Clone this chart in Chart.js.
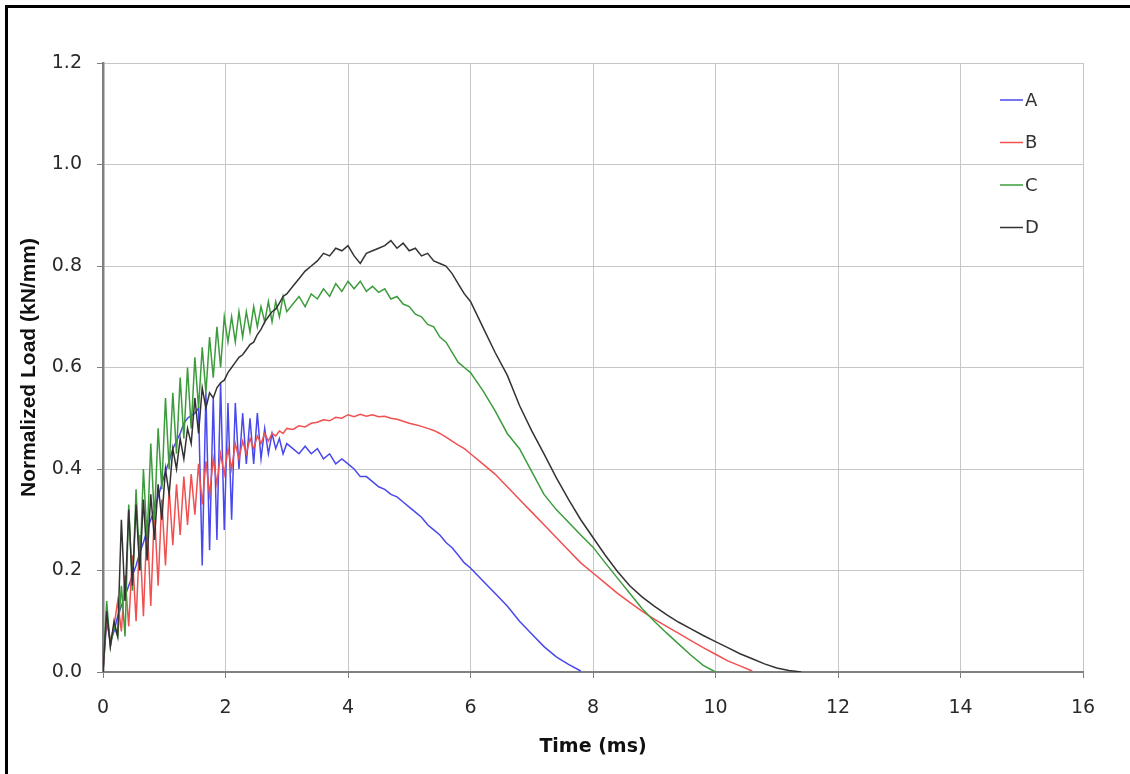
<!DOCTYPE html>
<html>
<head>
<meta charset="utf-8">
<script src="https://cdn.jsdelivr.net/npm/chart.js@4.4.0/dist/chart.umd.min.js"></script>
<style>
  html, body { margin: 0; padding: 0; background: #fff; }
</style>
</head>
<body>
<canvas id="myChart" width="1130" height="774"></canvas>
<script>
// time grid (ms) shared by the four records
const timeMs = [
  0, 0.06, 0.12, 0.18, 0.24, 0.30, 0.36, 0.42, 0.48, 0.54,
  0.60, 0.66, 0.72, 0.78, 0.84, 0.90, 0.96, 1.02, 1.08, 1.14,
  1.20, 1.26, 1.32, 1.38, 1.44, 1.50, 1.56, 1.62, 1.68, 1.74,
  1.80, 1.86, 1.92, 1.98, 2.04, 2.10, 2.16, 2.22, 2.28, 2.34,
  2.40, 2.46, 2.52, 2.58, 2.64, 2.70, 2.76, 2.82, 2.88, 2.94,
  3.00,
  3.1, 3.2, 3.3, 3.4, 3.5, 3.6, 3.7, 3.8, 3.9, 4.0,
  4.1, 4.2, 4.3, 4.4, 4.5, 4.6, 4.7, 4.8, 4.9, 5.0,
  5.1, 5.2, 5.3, 5.4, 5.5, 5.6, 5.7, 5.8, 5.9, 6.0,
  6.2, 6.4, 6.6, 6.8, 7.0, 7.2, 7.4, 7.6, 7.8, 8.0,
  8.2, 8.4, 8.6, 8.8, 9.0, 9.2, 9.4, 9.6, 9.8, 10.0,
  10.2, 10.4, 10.6, 10.8, 11.0, 11.2, 11.4
];

const seriesNames = ["A", "B", "C", "D"];

const loadA = [
  0, 0.10, 0.06, 0.08, 0.11, 0.13, 0.15, 0.17, 0.19, 0.21,
  0.235, 0.255, 0.28, 0.30, 0.32, 0.345, 0.37, 0.395, 0.415, 0.44,
  0.455, 0.47, 0.49, 0.50, 0.505, 0.51, 0.52, 0.21, 0.55, 0.24,
  0.54, 0.26, 0.57, 0.28, 0.53, 0.30, 0.53, 0.40, 0.51, 0.41,
  0.50, 0.41, 0.51, 0.42, 0.48, 0.43, 0.47, 0.44, 0.46, 0.43,
  0.45,
  0.44, 0.43, 0.445, 0.43, 0.44, 0.42, 0.43, 0.41, 0.42, 0.41,
  0.40, 0.385, 0.385, 0.375, 0.365, 0.36, 0.35, 0.345, 0.335, 0.325,
  0.315, 0.305, 0.29, 0.28, 0.27, 0.255, 0.245, 0.23, 0.215, 0.205,
  0.18, 0.155, 0.13, 0.10, 0.075, 0.05, 0.03, 0.015, 0.002, null,
  null, null, null, null, null, null, null, null, null, null,
  null, null, null, null, null, null, null
];

const loadB = [
  0, 0.11, 0.06, 0.09, 0.14, 0.08, 0.19, 0.09, 0.23, 0.10,
  0.27, 0.11, 0.30, 0.13, 0.32, 0.17, 0.34, 0.21, 0.36, 0.25,
  0.37, 0.27, 0.385, 0.29, 0.39, 0.31, 0.41, 0.33, 0.415, 0.35,
  0.42, 0.37, 0.43, 0.39, 0.44, 0.40, 0.45, 0.42, 0.455, 0.43,
  0.46, 0.44, 0.465, 0.45, 0.47, 0.455, 0.47, 0.465, 0.475, 0.47,
  0.48,
  0.478, 0.485, 0.483, 0.49, 0.492, 0.497, 0.495, 0.502, 0.50, 0.507,
  0.503, 0.508, 0.504, 0.507, 0.503, 0.504, 0.50, 0.498, 0.494, 0.49,
  0.487, 0.484, 0.48, 0.476, 0.47, 0.463, 0.455, 0.447, 0.44, 0.43,
  0.41, 0.39, 0.365, 0.34, 0.315, 0.29, 0.265, 0.24, 0.215, 0.195,
  0.175, 0.155, 0.137, 0.12, 0.104, 0.09, 0.076, 0.062, 0.048, 0.035,
  0.022, 0.012, 0.002, null, null, null, null
];

const loadC = [
  0, 0.14, 0.05, 0.09, 0.07, 0.17, 0.07, 0.33, 0.16, 0.36,
  0.20, 0.40, 0.26, 0.45, 0.30, 0.48, 0.36, 0.54, 0.40, 0.55,
  0.43, 0.58, 0.46, 0.60, 0.48, 0.62, 0.52, 0.64, 0.55, 0.66,
  0.58, 0.68, 0.60, 0.70, 0.65, 0.70, 0.65, 0.71, 0.66, 0.71,
  0.67, 0.72, 0.68, 0.72, 0.69, 0.73, 0.69, 0.73, 0.70, 0.74,
  0.71,
  0.725, 0.74, 0.72, 0.745, 0.735, 0.755, 0.74, 0.765, 0.75, 0.77,
  0.755, 0.77, 0.75, 0.76, 0.748, 0.755, 0.735, 0.74, 0.725, 0.72,
  0.705, 0.70, 0.685, 0.68, 0.66, 0.65, 0.63, 0.61, 0.60, 0.59,
  0.555, 0.515, 0.47, 0.44, 0.395, 0.35, 0.32, 0.295, 0.27, 0.246,
  0.215, 0.185, 0.155, 0.125, 0.10, 0.077, 0.055, 0.033, 0.013, 0,
  null, null, null, null, null, null, null
];

const loadD = [
  0, 0.12, 0.05, 0.10, 0.07, 0.30, 0.14, 0.32, 0.17, 0.33,
  0.20, 0.34, 0.22, 0.35, 0.26, 0.37, 0.30, 0.40, 0.35, 0.44,
  0.40, 0.46, 0.42, 0.48, 0.45, 0.54, 0.47, 0.56, 0.52, 0.55,
  0.54, 0.56, 0.57, 0.575, 0.59, 0.60, 0.61, 0.62, 0.625, 0.635,
  0.645, 0.65, 0.665, 0.675, 0.69, 0.70, 0.71, 0.715, 0.727, 0.74,
  0.745,
  0.76, 0.775, 0.79, 0.80, 0.81, 0.825, 0.82, 0.835, 0.83, 0.84,
  0.82, 0.805, 0.825, 0.83, 0.835, 0.84, 0.85, 0.835, 0.845, 0.83,
  0.835, 0.82, 0.825, 0.81, 0.805, 0.80, 0.785, 0.765, 0.745, 0.73,
  0.68, 0.63, 0.585, 0.525, 0.475, 0.43, 0.383, 0.34, 0.30, 0.265,
  0.23, 0.198, 0.17, 0.148, 0.13, 0.113, 0.098, 0.085, 0.072, 0.06,
  0.048, 0.036, 0.026, 0.016, 0.008, 0.003, 0
];

const lineColors = ["#4848ee", "#f05050", "#3c9c3c", "#333333"];

const toPoints = (values) =>
  timeMs.map((t, i) => ({ x: t, y: values[i] }));

// wide face for the horizontal labels, narrow bold face for the rotated title
const wideFont = "'DejaVu Sans', Verdana, sans-serif";
const narrowFont = "'Liberation Sans', Arial, sans-serif";

// frame on the left and top edge of the picture + the legend column
const frameAndLegend = {
  id: "frameAndLegend",
  afterDraw(chart) {
    const { ctx, data } = chart;
    ctx.save();
    ctx.strokeStyle = "#000";
    ctx.lineWidth = 3;
    ctx.beginPath();
    ctx.moveTo(6.5, 774);
    ctx.lineTo(6.5, 6.5);
    ctx.lineTo(1130, 6.5);
    ctx.stroke();

    ctx.font = "18px " + wideFont;
    ctx.textBaseline = "middle";
    ctx.textAlign = "left";
    data.datasets.forEach((ds, index) => {
      const y = 100 + index * 42.5;
      ctx.strokeStyle = ds.borderColor;
      ctx.lineWidth = 1.5;
      ctx.beginPath();
      ctx.moveTo(1000, y);
      ctx.lineTo(1023, y);
      ctx.stroke();
      ctx.fillStyle = "#333";
      ctx.fillText(ds.label, 1025, y + 1);
    });
    ctx.restore();
  },
};

const config = {
  type: "line",
  data: {
    datasets: [loadA, loadB, loadC, loadD].map((values, i) => ({
      label: seriesNames[i],
      data: toPoints(values),
      borderColor: lineColors[i],
      backgroundColor: lineColors[i],
      borderWidth: 1.5,
      pointRadius: 0,
      tension: 0,
      spanGaps: false,
      order: 4 - i,
    })),
  },
  options: {
    responsive: false,
    animation: false,
    layout: {
      padding: { top: 63, right: 47, left: 0, bottom: 0 },
    },
    scales: {
      x: {
        type: "linear",
        min: 0,
        max: 16,
        afterFit(scale) {
          scale.height = 102;
        },
        ticks: {
          stepSize: 2,
          padding: 19,
          color: "#2a2a2a",
          font: { family: wideFont, size: 19 },
        },
        grid: {
          color: "#c6c6c6",
          lineWidth: 1,
          tickLength: 6,
          tickColor: "#808080",
        },
        border: { color: "#808080", width: 2 },
        title: {
          display: true,
          text: "Time (ms)",
          color: "#111",
          font: { family: wideFont, size: 19, weight: "bold" },
          padding: { top: 0, bottom: 16 },
        },
      },
      y: {
        type: "linear",
        min: 0,
        max: 1.2,
        afterFit(scale) {
          scale.width = 103;
        },
        ticks: {
          stepSize: 0.2,
          padding: 15,
          color: "#2a2a2a",
          font: { family: wideFont, size: 19 },
          callback: (value) => value.toFixed(1),
        },
        grid: {
          color: "#c6c6c6",
          lineWidth: 1,
          tickLength: 6,
          tickColor: "#808080",
        },
        border: { color: "#808080", width: 2.5 },
        title: {
          display: true,
          text: "Normalized Load (kN/mm)",
          color: "#111",
          font: { family: narrowFont, size: 21, weight: "bold" },
          padding: { top: 17, bottom: 0 },
        },
      },
    },
    plugins: {
      legend: { display: false },
      tooltip: { enabled: false },
    },
  },
  plugins: [frameAndLegend],
};

const ctx = document.getElementById("myChart");
new Chart(ctx, config);
</script>
</body>
</html>
